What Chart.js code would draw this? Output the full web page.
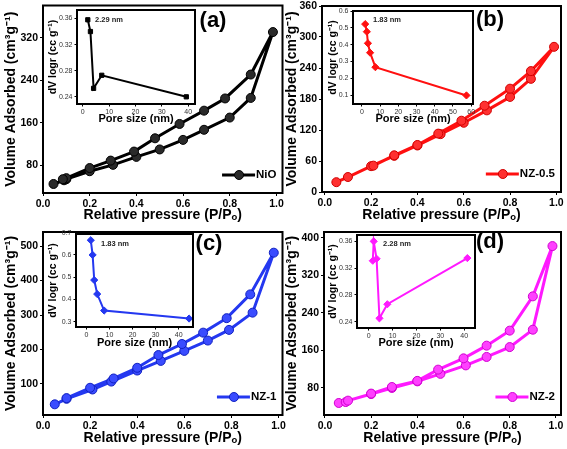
<!DOCTYPE html>
<html>
<head>
<meta charset="utf-8">
<script src="https://cdn.jsdelivr.net/npm/chart.js@4.4.0/dist/chart.umd.min.js"></script>
<style>
  body { margin: 0; background: #fff; width: 567px; height: 449px; position: relative; overflow: hidden; }
  canvas { position: absolute; }
</style>
</head>
<body>
<canvas id="pa" width="288" height="224" style="left:0;top:0"></canvas>
<canvas id="pb" width="284" height="224" style="left:283px;top:0"></canvas>
<canvas id="pc" width="288" height="227" style="left:0;top:222px"></canvas>
<canvas id="pd" width="284" height="227" style="left:283px;top:222px"></canvas>
<canvas id="ia" width="155" height="124" style="left:45px;top:4px"></canvas>
<canvas id="ib" width="155" height="124" style="left:325px;top:4px"></canvas>
<canvas id="ic" width="155" height="124" style="left:45px;top:226px"></canvas>
<canvas id="id" width="155" height="124" style="left:325px;top:226px"></canvas>
<script>
// isotherms: adsorption branch then desorption branch (P/Po, cm3/g)
const adsX_a = [0.045, 0.09, 0.10, 0.20, 0.30, 0.40, 0.50, 0.60, 0.69, 0.80, 0.89, 0.985]
const adsY_a = [45, 52, 54, 69, 81, 96, 110, 128, 147, 170, 207, 331]
const desX_a = [0.89, 0.78, 0.69, 0.585, 0.48, 0.39, 0.29, 0.20, 0.10, 0.085]
const desY_a = [251, 206, 183, 158, 131, 106, 89, 75, 56, 54]

const adsX_b = [0.05, 0.10, 0.20, 0.30, 0.40, 0.50, 0.60, 0.70, 0.80, 0.89, 0.99]
const adsY_b = [19, 29, 50, 70, 90, 112, 134, 158, 184, 219, 281]
const desX_b = [0.89, 0.80, 0.69, 0.59, 0.49, 0.40, 0.30, 0.21]
const desY_b = [234, 200, 167, 138, 113, 91, 71, 51]

const adsX_c = [0.05, 0.10, 0.21, 0.29, 0.40, 0.50, 0.60, 0.70, 0.79, 0.89, 0.98]
const adsY_c = [41, 57, 84, 107, 139, 167, 196, 226, 257, 307, 481]
const desX_c = [0.88, 0.78, 0.68, 0.59, 0.49, 0.40, 0.30, 0.20, 0.10]
const desY_c = [360, 291, 249, 216, 184, 147, 116, 89, 59]

const adsX_d = [0.06, 0.09, 0.10, 0.20, 0.29, 0.40, 0.50, 0.61, 0.70, 0.80, 0.90, 0.985]
const adsY_d = [48, 50, 53, 67, 80, 94, 110, 128, 146, 167, 204, 382]
const desX_d = [0.90, 0.80, 0.70, 0.60, 0.49, 0.40, 0.29, 0.20]
const desY_d = [275, 202, 170, 143, 119, 95, 82, 68]

// pore size distributions (nm, dV logr)
const poreX_a = [1.9, 2.9, 4.1, 7.2, 39.3]
const dvY_a = [0.358, 0.340, 0.253, 0.273, 0.240]
const poreX_b = [1.8, 2.7, 3.3, 4.5, 7.4, 57.4]
const dvY_b = [0.522, 0.477, 0.408, 0.352, 0.266, 0.098]
const poreX_c = [1.9, 2.7, 3.4, 4.7, 7.7, 44.5]
const dvY_c = [0.666, 0.600, 0.487, 0.424, 0.350, 0.314]
const poreX_d = [1.7, 2.1, 3.3, 4.5, 7.8, 41.3]
const dvY_d = [0.331, 0.360, 0.334, 0.245, 0.266, 0.335]

// tick labels
const pressureTicks = [0, 0.2, 0.4, 0.6, 0.8, 1.0]
const volTicks_a = [80, 160, 240, 320]
const volTicks_b = [0, 60, 120, 180, 240, 300, 360]
const volTicks_c = [100, 200, 300, 400, 500]
const volTicks_d = [80, 160, 240, 320, 400]
const poreTicks_a = [0, 10, 20, 30, 40]
const poreTicks_b = [0, 10, 20, 30, 40, 50, 60]
const poreTicks_c = [0, 10, 20, 30, 40]
const poreTicks_d = [0, 10, 20, 30, 40]
const dvTicks_a = [0.24, 0.28, 0.32, 0.36]
const dvTicks_b = [0.1, 0.2, 0.3, 0.4, 0.5, 0.6]
const dvTicks_c = [0.3, 0.4, 0.5, 0.6, 0.7]
const dvTicks_d = [0.24, 0.28, 0.32, 0.36]

const labels = ['NiO', 'NZ-0.5', 'NZ-1', 'NZ-2']
const peaks = ['2.29 nm', '1.83 nm', '1.83 nm', '2.28 nm']

const FONT = '"Liberation Sans", Arial, sans-serif'

// box around plot, legend line, panel letter, peak note
const framePlugin = {
  id: 'frame',
  afterDraw(chart, args, o) {
    const ctx = chart.ctx, a = chart.chartArea
    ctx.save()
    ctx.lineWidth = o.lw
    ctx.strokeStyle = '#000'
    ctx.strokeRect(a.left, a.top, a.right - a.left, a.bottom - a.top)
    ctx.textBaseline = 'middle'
    if (o.key) {
      const ds = chart.data.datasets[0]
      ctx.font = 'bold 11.5px ' + FONT
      const w = ctx.measureText(ds.label).width
      const tx = a.right - 6 - w, y = a.bottom - 18
      ctx.strokeStyle = ds.borderColor
      ctx.lineWidth = 3
      ctx.beginPath(); ctx.moveTo(tx - 34, y); ctx.lineTo(tx - 1, y); ctx.stroke()
      ctx.fillStyle = ds.pointBackgroundColor
      ctx.strokeStyle = ds.pointBorderColor
      ctx.lineWidth = 1
      ctx.beginPath(); ctx.arc(tx - 17, y, 4.5, 0, Math.PI * 2); ctx.fill(); ctx.stroke()
      ctx.fillStyle = '#000'
      ctx.fillText(ds.label, tx, y)
    }
    if (o.letter) {
      ctx.font = 'bold 22px ' + FONT
      ctx.textAlign = 'center'
      ctx.fillStyle = '#000'
      ctx.fillText(o.letter, o.lx, o.ly)
    }
    if (o.note) {
      ctx.font = 'bold 7.5px ' + FONT
      ctx.textAlign = 'left'
      ctx.fillStyle = '#222'
      ctx.fillText(o.note, a.left + o.nx, a.top + o.ny)
    }
    ctx.restore()
  }
}

function axis(min, max, ticks, digits, size, tickFont, title, titleFont, titlePad, tickLen, horizontal, tickPad) {
  return {
    type: 'linear', min: min, max: max,
    afterBuildTicks: s => { s.ticks = ticks.map(v => ({value: v})) },
    afterFit: s => {
      if (horizontal) s.height = size; else s.width = size
      s.paddingLeft = 0; s.paddingRight = 0; s.paddingTop = 0; s.paddingBottom = 0
    },
    grid: {display: true, drawOnChartArea: false, drawTicks: true, tickLength: tickLen, color: '#000', lineWidth: 1},
    border: {display: false},
    ticks: {
      autoSkip: false, maxRotation: 0, minRotation: 0, padding: tickPad,
      color: tickFont.color, font: tickFont.font,
      callback: v => v.toFixed(digits)
    },
    title: {display: true, text: title, color: '#000', font: titleFont, padding: titlePad}
  }
}

function mainChart(id, o) {
  const cv = document.getElementById(id)
  const pts = o.adsX.map((x, i) => ({x: x, y: o.adsY[i]}))
    .concat(o.desX.map((x, i) => ({x: x, y: o.desY[i]})))
  const tf = {color: '#000', font: {family: FONT, size: 10.5, weight: 'bold'}}
  const ttl = {family: FONT, size: 14, weight: 'bold'}
  return new Chart(cv, {
    type: 'scatter',
    data: {
      datasets: [{
        label: o.label, data: pts, showLine: true, tension: 0,
        borderColor: o.color, borderWidth: 3,
        pointBackgroundColor: o.fill, pointBorderColor: o.edge,
        pointRadius: 4.5, pointBorderWidth: 1
      }]
    },
    options: {
      responsive: false, animation: false, events: [],
      layout: {padding: {left: 0, top: o.area[1], right: cv.width - o.area[2], bottom: 0}},
      plugins: {
        legend: {display: false}, tooltip: {enabled: false},
        frame: {lw: 2, key: true, letter: o.letter, lx: o.lx, ly: o.ly}
      },
      scales: {
        x: axis(o.xr[0], o.xr[1], pressureTicks, 1, cv.height - o.area[3], tf,
          'Relative pressure (P/Pₒ)', ttl, {top: 0, bottom: o.xtPad}, 3, true, 2),
        y: axis(o.yr[0], o.yr[1], o.yTicks, 0, o.area[0], tf,
          'Volume Adsorbed (cm³g⁻¹)', ttl, {top: o.ytPad, bottom: 0}, 3, false, 2)
      }
    },
    plugins: [framePlugin]
  })
}

function insetChart(id, o) {
  const cv = document.getElementById(id)
  const pts = o.px.map((x, i) => ({x: x, y: o.py[i]}))
  const tf = {color: '#333', font: {family: FONT, size: 7}}
  return new Chart(cv, {
    type: 'scatter',
    data: {
      datasets: [{
        label: 'psd', data: pts, showLine: true, tension: 0,
        borderColor: o.color, borderWidth: 2,
        pointStyle: o.marker, pointBackgroundColor: o.color, pointBorderColor: o.color,
        pointRadius: o.marker === 'rect' ? 3 : 3.6, pointBorderWidth: 1
      }]
    },
    options: {
      responsive: false, animation: false, events: [],
      layout: {padding: {left: 0, top: o.area[1], right: cv.width - o.area[2], bottom: 0}},
      plugins: {
        legend: {display: false}, tooltip: {enabled: false},
        frame: {lw: 2, note: o.note, nx: o.nx, ny: o.ny}
      },
      scales: {
        x: axis(o.xr[0], o.xr[1], o.xTicks, 0, cv.height - o.area[3], tf,
          'Pore size (nm)', {family: FONT, size: 11, weight: 'bold'}, {top: 0, bottom: o.xtPad}, 2.5, true, 1),
        y: axis(o.yr[0], o.yr[1], o.yTicks, o.yDigits, o.area[0], tf,
          'dV logr (cc g⁻¹)', {family: FONT, size: 10.5, weight: 'bold'}, {top: o.ytPad, bottom: 0}, 2.5, false, 2)
      }
    },
    plugins: [framePlugin]
  })
}

mainChart('pa', {label: labels[0], adsX: adsX_a, adsY: adsY_a, desX: desX_a, desY: desY_a,
  color: '#000', fill: '#2a2a2a', edge: '#000', area: [43, 5, 283, 193],
  xr: [0, 1.026], yr: [28, 381], yTicks: volTicks_a, letter: '(a)', lx: 213, ly: 21, xtPad: 0, ytPad: 3})
mainChart('pb', {label: labels[1], adsX: adsX_b, adsY: adsY_b, desX: desX_b, desY: desY_b,
  color: '#ff1010', fill: '#ff3030', edge: '#d00000', area: [39, 6, 278, 192],
  xr: [-0.012, 1.02], yr: [0, 360], yTicks: volTicks_b, letter: '(b)', lx: 207, ly: 20, xtPad: 0, ytPad: 1})
mainChart('pc', {label: labels[2], adsX: adsX_c, adsY: adsY_c, desX: desX_c, desY: desY_c,
  color: '#2438f0', fill: '#3a4cff', edge: '#1020c0', area: [43, 10, 283, 193],
  xr: [0, 1.017], yr: [10, 541], yTicks: volTicks_c, letter: '(c)', lx: 209, ly: 22, xtPad: 2, ytPad: 3})
mainChart('pd', {label: labels[3], adsX: adsX_d, adsY: adsY_d, desX: desX_d, desY: desY_d,
  color: '#ff19ff', fill: '#ff40ff', edge: '#d000d0', area: [41, 10, 278, 193],
  xr: [-0.004, 1.022], yr: [22.4, 412], yTicks: volTicks_d, letter: '(d)', lx: 207, ly: 20, xtPad: 2, ytPad: 1})

insetChart('ia', {px: poreX_a, py: dvY_a, color: '#000', marker: 'rect', area: [32, 6, 150, 100],
  xr: [-2.2, 42.6], yr: [0.229, 0.373], xTicks: poreTicks_a, yTicks: dvTicks_a, yDigits: 2,
  note: peaks[0], nx: 18, ny: 10, xtPad: 2, ytPad: 2})
insetChart('ib', {px: poreX_b, py: dvY_b, color: '#ff1010', marker: 'rectRot', area: [28, 7, 148, 100],
  xr: [-4.9, 61], yr: [0.047, 0.6], xTicks: poreTicks_b, yTicks: dvTicks_b, yDigits: 1,
  note: peaks[1], nx: 20, ny: 9, xtPad: 2, ytPad: 2})
insetChart('ic', {px: poreX_c, py: dvY_c, color: '#2438f0', marker: 'rectRot', area: [31, 8, 148, 101],
  xr: [-4.5, 46.2], yr: [0.276, 0.694], xTicks: poreTicks_c, yTicks: dvTicks_c, yDigits: 1,
  note: peaks[2], nx: 25, ny: 10, xtPad: 0, ytPad: 2})
insetChart('id', {px: poreX_d, py: dvY_d, color: '#ff19ff', marker: 'rectRot', area: [32, 9, 150, 102],
  xr: [-4.9, 44.5], yr: [0.2305, 0.3695], xTicks: poreTicks_d, yTicks: dvTicks_d, yDigits: 2,
  note: peaks[3], nx: 26, ny: 9, xtPad: 0, ytPad: 2})
</script>
</body>
</html>
